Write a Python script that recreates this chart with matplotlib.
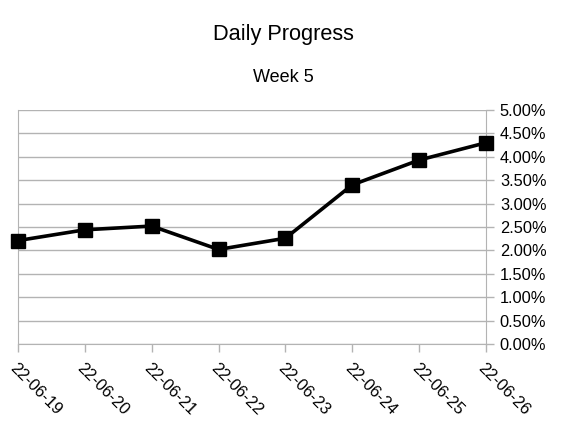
import matplotlib
matplotlib.use("Agg")
import matplotlib.pyplot as plt
from matplotlib.ticker import FuncFormatter

plt.rcParams['font.family'] = ['Liberation Sans', 'DejaVu Sans']

dates = ["22-06-19", "22-06-20", "22-06-21", "22-06-22",
         "22-06-23", "22-06-24", "22-06-25", "22-06-26"]
progress = [0.0221, 0.0244, 0.0252, 0.0202, 0.0226, 0.0340, 0.0393, 0.0430]

fig = plt.figure(figsize=(5.67, 4.26), dpi=100)
ax = fig.add_axes([0.0317, 0.1925, 0.8254, 0.5493])

x = list(range(len(dates)))
ax.plot(x, progress, color="black", lw=2.6, marker="s", markersize=10,
        clip_on=False, zorder=3)

ax.set_xlim(0, len(dates) - 1)
ax.set_ylim(0, 0.05)
ax.set_yticks([i * 0.005 for i in range(11)])
ax.yaxis.set_major_formatter(FuncFormatter(lambda v, p: f"{v*100:.2f}%"))
ax.yaxis.tick_right()
ax.grid(axis="y", color="#b3b3b3", lw=1)
ax.set_axisbelow(True)

ax.spines["top"].set_visible(False)
for s in ["left", "right", "bottom"]:
    ax.spines[s].set_color("#b3b3b3")

ax.set_xticks(x)
ax.set_xticklabels(dates, rotation=-45, ha="left", rotation_mode="anchor")
ax.tick_params(axis="both", colors="#b3b3b3", labelcolor="black",
               labelsize=11.8, length=6, width=1)
ax.tick_params(axis="x", pad=6)
ax.tick_params(axis="y", pad=4)

fig.text(0.5, 0.918, "Daily Progress", ha="center", va="center", fontsize=15.7)
fig.text(0.5, 0.818, "Week 5", ha="center", va="center", fontsize=13)

fig.savefig("out.png", dpi=100)
